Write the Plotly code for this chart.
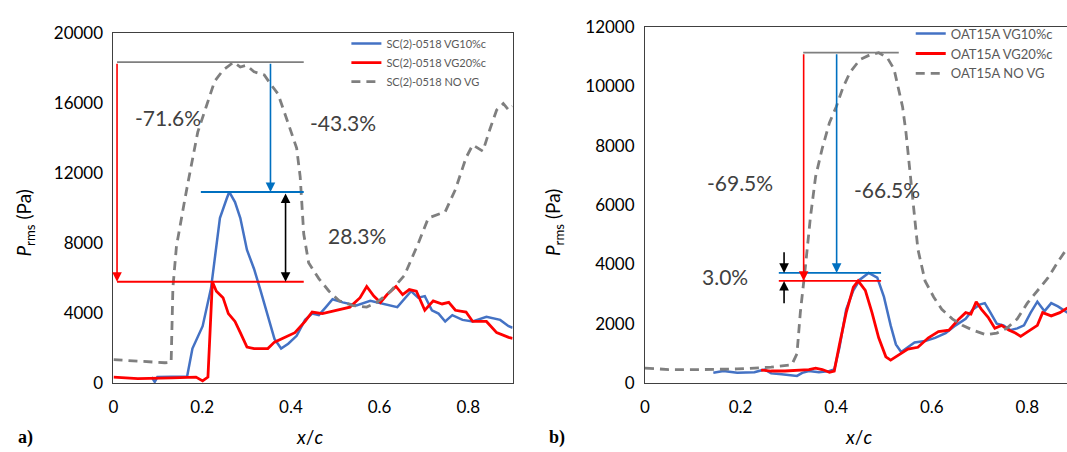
import plotly.graph_objects as go

W, H = 1067, 452

# ---------------- data: panel a) SC(2)-0518 ----------------
a_novg_x = [0.0, 0.055, 0.116, 0.130, 0.134, 0.142, 0.149, 0.160, 0.168, 0.190, 0.209, 0.228, 0.247, 0.271,
            0.286, 0.300, 0.317, 0.340, 0.355, 0.371, 0.386, 0.398, 0.413, 0.421, 0.425, 0.429, 0.440, 0.463,
            0.486, 0.509, 0.540, 0.571, 0.594, 0.625, 0.656, 0.687, 0.710, 0.748, 0.771, 0.795, 0.810, 0.833,
            0.849, 0.864, 0.879, 0.891, 0.900]
a_novg_y = [1330, 1240, 1150, 1180, 5450, 7810, 8720, 10360, 11450, 14330, 15780, 17230, 17870, 18330,
            18050, 18150, 17780, 17600, 17050, 16510, 15420, 14510, 13420, 11780, 10330, 8510, 6870, 5960,
            5240, 4690, 4420, 4330, 4600, 5240, 6140, 7960, 9420, 9780, 11050, 12870, 13600, 13240,
            14510, 15600, 15960, 15600, 15800]

a_vg10_x = [0.086, 0.093, 0.099, 0.132, 0.166, 0.178, 0.201, 0.220, 0.240, 0.255, 0.261, 0.274, 0.286,
            0.301, 0.317, 0.332, 0.348, 0.363, 0.378, 0.394, 0.413, 0.432, 0.448, 0.463, 0.479, 0.494,
            0.517, 0.548, 0.579, 0.610, 0.640, 0.671, 0.687, 0.702, 0.718, 0.733, 0.748, 0.764, 0.787,
            0.810, 0.841, 0.872, 0.891, 0.900]
a_vg10_y = [330, 55, 330, 330, 360, 1960, 3240, 5420, 9420, 10510, 10910, 10330, 9420,
            7600, 6510, 5240, 3780, 2510, 1960, 2240, 2690, 3600, 3960, 3870, 4330, 4780,
            4600, 4420, 4690, 4510, 4330, 5240, 4870, 4960, 4150, 3960, 3510, 3870, 3600,
            3510, 3780, 3600, 3240, 3150]

a_vg20_x = [0.0, 0.055, 0.132, 0.186, 0.201, 0.213, 0.218, 0.223, 0.232, 0.247, 0.259, 0.274, 0.286,
            0.301, 0.317, 0.348, 0.363, 0.386, 0.409, 0.432, 0.448, 0.471, 0.502, 0.533, 0.556, 0.571,
            0.587, 0.602, 0.617, 0.637, 0.652, 0.667, 0.683, 0.702, 0.721, 0.741, 0.756, 0.771, 0.795,
            0.810, 0.841, 0.864, 0.891, 0.900]
a_vg20_y = [330, 240, 290, 330, 110, 330, 3050, 5780, 5240, 4870, 3960, 3510, 2870,
            2050, 1960, 1960, 2330, 2600, 2870, 3510, 4050, 3960, 4150, 4330, 4870, 5510,
            4960, 4600, 5050, 5510, 5050, 5330, 5240, 4150, 4690, 4510, 4600, 4150, 4050,
            3510, 3510, 2870, 2600, 2550]

# ---------------- data: panel b) OAT15A ----------------
b_novg_x = [0.0, 0.05, 0.121, 0.193, 0.264, 0.307, 0.318, 0.325, 0.336, 0.346, 0.357, 0.371, 0.386, 0.400,
            0.414, 0.429, 0.450, 0.471, 0.489, 0.507, 0.521, 0.532, 0.539, 0.546, 0.554, 0.561, 0.571,
            0.586, 0.604, 0.621, 0.643, 0.664, 0.686, 0.714, 0.736, 0.757, 0.779, 0.800, 0.821, 0.843,
            0.864, 0.884]
b_novg_y = [500, 450, 450, 470, 530, 610, 980, 2370, 3970, 5570, 6960, 7920, 8780, 9310,
            9950, 10480, 10910, 11070, 11140, 10970, 10590, 9840, 9310, 8460, 7180, 5890, 4510,
            3440, 2900, 2480, 2160, 1940, 1780, 1620, 1680, 1840, 2160, 2690, 3120, 3540,
            4080, 4560]

b_vg10_x = [0.143, 0.164, 0.193, 0.229, 0.250, 0.264, 0.286, 0.307, 0.318, 0.329, 0.343, 0.364, 0.386,
            0.396, 0.407, 0.421, 0.436, 0.450, 0.468, 0.486, 0.500, 0.514, 0.525, 0.536, 0.550, 0.564,
            0.586, 0.607, 0.629, 0.650, 0.671, 0.686, 0.700, 0.711, 0.721, 0.736, 0.750, 0.764, 0.779,
            0.793, 0.807, 0.821, 0.836, 0.850, 0.864, 0.884]
b_vg10_y = [340, 400, 340, 360, 450, 320, 290, 260, 235, 340, 400, 360, 400,
            450, 1200, 2480, 3120, 3490, 3710, 3550, 2900, 1940, 1300, 1040, 1200, 1360,
            1410, 1520, 1680, 1940, 2160, 2480, 2640, 2690, 2420, 2000, 1940, 1780, 1840,
            1940, 2370, 2740, 2420, 2690, 2580, 2370]

b_vg20_x = [0.243, 0.264, 0.293, 0.321, 0.343, 0.357, 0.371, 0.386, 0.396, 0.407, 0.421, 0.436, 0.446,
            0.461, 0.475, 0.489, 0.504, 0.514, 0.529, 0.550, 0.571, 0.593, 0.614, 0.636, 0.657, 0.671,
            0.682, 0.693, 0.704, 0.718, 0.732, 0.746, 0.761, 0.775, 0.786, 0.800, 0.821, 0.832, 0.850,
            0.868, 0.884]
b_vg20_y = [430, 400, 400, 420, 450, 500, 450, 360, 400, 1300, 2370, 3230, 3440,
            3120, 2370, 1520, 880, 770, 930, 1140, 1200, 1520, 1730, 1780, 2160, 2370,
            2320, 2740, 2480, 2210, 1840, 1940, 1780, 1680, 1570, 1730, 1940, 2370, 2260,
            2370, 2530]

# tick labels
a_yticks = [0, 4000, 8000, 12000, 16000, 20000]
b_yticks = [0, 2000, 4000, 6000, 8000, 10000, 12000]
xticks = [0, 0.2, 0.4, 0.6, 0.8]
xticktext = ["0", "0.2", "0.4", "0.6", "0.8"]

a_names = ["SC(2)-0518 VG10%c", "SC(2)-0518 VG20%c", "SC(2)-0518 NO VG"]
b_names = ["OAT15A VG10%c", "OAT15A VG20%c", "OAT15A NO VG"]
a_labels = ["-71.6%", "-43.3%", "28.3%"]
b_labels = ["-69.5%", "-66.5%", "3.0%"]

# ---------------- styles ----------------
BLUE = "#4472C4"
RED = "#FF0000"
GRAY = "#7F7F7F"
ABLUE = "#0070C0"
TXT = "#404040"
FONT = "Lato, 'Open Sans', sans-serif"

def px_x(p):
    return p / W

def px_y(p):
    return 1 - p / H

fig = go.Figure()

def add_traces(xs, ys, names, xa, ya, legend):
    (x1, x2, x3), (y1, y2, y3) = xs, ys
    fig.add_trace(go.Scatter(x=x1, y=y1, name=names[0], mode="lines", xaxis=xa, yaxis=ya,
                             line=dict(color=BLUE, width=2.5), legend=legend))
    fig.add_trace(go.Scatter(x=x2, y=y2, name=names[1], mode="lines", xaxis=xa, yaxis=ya,
                             line=dict(color=RED, width=2.8), legend=legend))
    fig.add_trace(go.Scatter(x=x3, y=y3, name=names[2], mode="lines", xaxis=xa, yaxis=ya,
                             line=dict(color=GRAY, width=2.8, dash="9px,6px"), legend=legend))

add_traces((a_vg10_x, a_vg20_x, a_novg_x), (a_vg10_y, a_vg20_y, a_novg_y), a_names, "x", "y", "legend")
add_traces((b_vg10_x, b_vg20_x, b_novg_x), (b_vg10_y, b_vg20_y, b_novg_y), b_names, "x2", "y2", "legend2")

# reference levels from the data
a_g, a_b, a_r = max(a_novg_y), max(a_vg10_y), max(a_vg20_y)
b_g, b_b, b_r = max(b_novg_y), max(b_vg10_y), max(b_vg20_y)

shapes = []
annotations = []

def hline(xr, yr, x0, x1, y, color, width=1.8):
    shapes.append(dict(type="line", xref=xr, yref=yr, x0=x0, x1=x1, y0=y, y1=y,
                       line=dict(color=color, width=width)))

def arrow(xr, yr, x, y_from, y_to, color, both=False, head=2):
    annotations.append(dict(xref=xr, yref=yr, axref=xr, ayref=yr, x=x, y=y_to, ax=x, ay=y_from,
                            text="", showarrow=True, arrowhead=head, arrowsize=1.2, arrowwidth=1.6,
                            arrowcolor=color, arrowside="end+start" if both else "end",
                            startarrowhead=head, startarrowsize=1.2))

def label(xr, yr, x, y, t, size=21):
    annotations.append(dict(xref=xr, yref=yr, x=x, y=y, text=t, showarrow=False,
                            xanchor="center", yanchor="middle",
                            font=dict(family=FONT, size=size, color=TXT)))

# panel a annotations
hline("x", "y", 0.008, 0.429, a_g, GRAY)
hline("x", "y", 0.197, 0.429, a_b, ABLUE)
hline("x", "y", 0.008, 0.429, a_r, RED)
arrow("x", "y", 0.008, a_g, a_r, RED)
arrow("x", "y", 0.354, a_g, a_b, ABLUE)
arrow("x", "y", 0.388, a_b, a_r, "black", both=True)
label("x", "y", 0.122, 15170, a_labels[0])
label("x", "y", 0.517, 14870, a_labels[1])
label("x", "y", 0.548, 8450, a_labels[2])

# panel b annotations
hline("x2", "y2", 0.331, 0.531, b_g, GRAY)
hline("x2", "y2", 0.280, 0.494, b_b, ABLUE)
hline("x2", "y2", 0.280, 0.494, b_r, RED)
arrow("x2", "y2", 0.332, b_g, b_r, RED)
arrow("x2", "y2", 0.401, b_g, b_b, ABLUE)
arrow("x2", "y2", 0.291, b_b + 750, b_b, "black")
arrow("x2", "y2", 0.291, b_r - 800, b_r, "black")
label("x2", "y2", 0.199, 6760, b_labels[0])
label("x2", "y2", 0.507, 6540, b_labels[1])
label("x2", "y2", 0.167, 3590, b_labels[2])

# axis titles and panel letters
for xc in (20, 551):
    annotations.append(dict(xref="paper", yref="paper", x=px_x(xc), y=px_y(222), textangle=-90,
                            xanchor="center", yanchor="middle",
                            text="<i>P</i><sub>rms</sub> (Pa)", showarrow=False,
                            font=dict(family=FONT, size=19, color="black")))
for xc in (306, 858):
    annotations.append(dict(xref="paper", yref="paper", x=px_x(xc), y=px_y(446),
                            xanchor="center", yanchor="middle",
                            text="<i>x</i>/<i>c</i>", showarrow=False,
                            font=dict(family=FONT, size=19, color="black")))
for xc, t in ((21, "a)"), (555, "b)")):
    annotations.append(dict(xref="paper", yref="paper", x=px_x(xc), y=px_y(447), text="<b>%s</b>" % t,
                            xanchor="center", yanchor="middle",
                            showarrow=False, font=dict(family="Liberation Serif, serif", size=18, color="black")))

axis_common = dict(showgrid=False, zeroline=False, ticks="", showline=True, linecolor="#404040",
                   linewidth=1, tickfont=dict(family=FONT, size=17, color="black"))

fig.update_layout(
    width=W, height=H, margin=dict(l=0, r=0, t=0, b=0),
    paper_bgcolor="white", plot_bgcolor="white",
    xaxis=dict(domain=[px_x(109), px_x(510)], range=[0, 0.9], anchor="y", mirror=True,
               tickvals=xticks, ticktext=xticktext, ticklabelstandoff=9, **axis_common),
    yaxis=dict(domain=[px_y(390), px_y(23)], range=[0, 20000], anchor="x", mirror=True,
               tickvals=a_yticks, tickformat="d", ticklabelstandoff=6, **axis_common),
    xaxis2=dict(domain=[px_x(643), 1.0], range=[0, 0.883], anchor="y2", mirror=True,
                tickvals=xticks, ticktext=xticktext, ticklabelstandoff=9, **axis_common),
    yaxis2=dict(domain=[px_y(390), px_y(17)], range=[0, 12000], anchor="x2", mirror=False,
                tickvals=b_yticks, tickformat="d", ticklabelstandoff=6, **axis_common),
    legend=dict(x=px_x(343), y=px_y(19), xanchor="left", yanchor="top", bgcolor="rgba(0,0,0,0)",
                font=dict(family=FONT, size=11, color="#595959"), tracegroupgap=0, itemwidth=30),
    legend2=dict(x=px_x(910), y=px_y(8), xanchor="left", yanchor="top", bgcolor="rgba(0,0,0,0)",
                 font=dict(family=FONT, size=13, color="#595959"), tracegroupgap=0, itemwidth=30),
    shapes=shapes, annotations=annotations, showlegend=True,
)

fig.write_html("out.html")
